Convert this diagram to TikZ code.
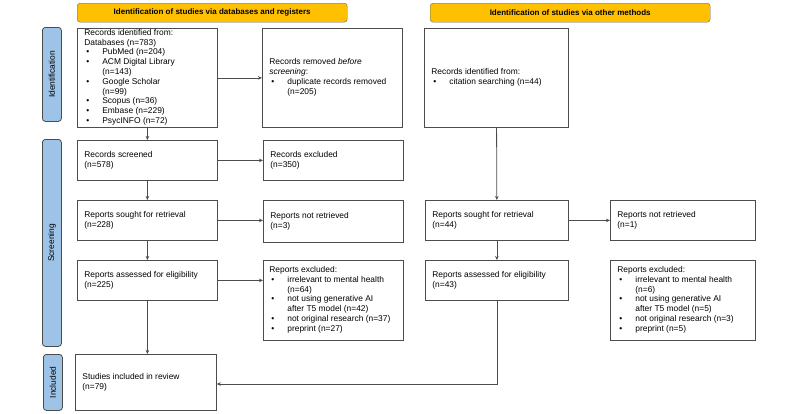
\documentclass[tikz,border=0pt]{standalone}
\usepackage{fontspec}
\setmainfont{Liberation Sans}
\usepackage{array}
\usetikzlibrary{arrows.meta, calc}
\definecolor{hdr}{HTML}{FFC000}
\definecolor{side}{HTML}{9DC3E6}
\tikzset{
    box/.style = {draw = black!70, line width = 0.8pt, inner sep = 0pt, minimum width = 140pt,
        font = \fontsize{8.4}{9.8}\selectfont, anchor = north west},
    head/.style = {draw = black!60, fill = hdr, rounded corners = 3pt, inner sep = 0pt,
        minimum height = 19pt, font = \fontsize{8}{9}\selectfont\bfseries, anchor = north west},
    phase/.style = {draw = black!70, fill = side, rounded corners = 3pt, line width = 0.8pt,
        inner sep = 0pt, minimum width = 19pt, anchor = north west},
    arr/.style = {-{Stealth[length = 4pt, width = 3.5pt]}, draw = black!70, line width = 0.8pt}
}
\newcommand{\txt}[2]{\parbox{#1}{\raggedright #2}}
\newcommand{\blist}[2]{\begin{tabular}{@{}>{\hspace{2pt}}p{18pt}@{}>{\raggedright\arraybackslash}p{#1}@{}}#2\end{tabular}}
\begin{document}
\begin{tikzpicture}[x = 1pt, y = -1pt]
    \useasboundingbox (0,0) rectangle (800,413);
    % headers
    \node [head, minimum width = 270pt] (hdb) at (77,3) {Identification of studies via databases and registers};
    \node [head, minimum width = 280pt] (hot) at (430,3) {Identification of studies via other methods};
    % phases
    \node [phase, minimum height = 94pt] (pid) at (42,27) {};
    \node [rotate = 90] at (pid.center) {\fontsize{8.4}{9}\selectfont Identification};
    \node [phase, minimum height = 207pt] (psc) at (42,139) {};
    \node [rotate = 90] at (psc.center) {\fontsize{8.4}{9}\selectfont Screening};
    \node [phase, minimum height = 56pt] (pin) at (43,354) {};
    \node [rotate = 90] at (pin.center) {\fontsize{8.4}{9}\selectfont Included};
    % left column
    \node [box, minimum height = 99pt] (ident) at (77,28) {\txt{126pt}{Records identified from:\\Databases (n=783)\\
        \blist{80pt}{\textbullet & PubMed (n=204)\\ \textbullet & ACM Digital Library (n=143)\\
        \textbullet & Google Scholar (n=99)\\ \textbullet & Scopus (n=36)\\
        \textbullet & Embase (n=229)\\ \textbullet & PsycINFO (n=72)}}};
    \node [box, minimum height = 99pt] (removed) at (262,28) {\txt{126pt}{Records removed \textit{before}\\\textit{screening}:\\
        \blist{102pt}{\textbullet & duplicate records removed (n=205)}}};
    \node [box, minimum height = 40pt] (screened) at (77,140) {\txt{126pt}{Records screened\\(n=578)}};
    \node [box, minimum height = 40pt] (excl) at (263,140) {\txt{126pt}{Records excluded\\(n=350)}};
    \node [box, minimum height = 40pt] (sought) at (77,200) {\txt{126pt}{Reports sought for retrieval\\(n=228)}};
    \node [box, minimum height = 42pt] (notret) at (263,200) {\txt{126pt}{Reports not retrieved\\(n=3)}};
    \node [box, minimum height = 40pt] (assess) at (77,260) {\txt{126pt}{Reports assessed for eligibility\\(n=225)}};
    \node [box, minimum height = 80pt] (rexcl) at (263,260) {\txt{128pt}{Reports excluded:\\
        \blist{104pt}{\textbullet & irrelevant to mental health (n=64)\\
        \textbullet & not using generative AI\newline after T5 model (n=42)\\
        \textbullet & not original research (n=37)\\ \textbullet & preprint (n=27)}}};
    \node [box, minimum width = 141pt, minimum height = 56pt] (incl) at (75,354) {\txt{127pt}{Studies included in review\\(n=79)}};
    % right column
    \node [box, minimum width = 144pt, minimum height = 99pt] (oident) at (424,28) {\txt{130pt}{Records identified from:\\
        \blist{108pt}{\textbullet & citation searching (n=44)}}};
    \node [box, minimum width = 143pt, minimum height = 40pt] (osought) at (425,200) {\txt{129pt}{Reports sought for retrieval\\(n=44)}};
    \node [box, minimum width = 145pt, minimum height = 40pt] (onotret) at (610,200) {\txt{131pt}{Reports not retrieved\\(n=1)}};
    \node [box, minimum width = 143pt, minimum height = 40pt] (oassess) at (425,260) {\txt{129pt}{Reports assessed for eligibility\\(n=43)}};
    \node [box, minimum width = 145pt, minimum height = 80pt] (orexcl) at (610,260) {\txt{131pt}{Reports excluded:\\
        \blist{104pt}{\textbullet & irrelevant to mental health (n=6)\\
        \textbullet & not using generative AI\newline after T5 model (n=5)\\
        \textbullet & not original research (n=3)\\ \textbullet & preprint (n=5)}}};
    % connectors
    \draw [arr] (ident) -- (removed);
    \draw [arr] (ident.south -| screened.north) -- (screened.north);
    \draw [arr] (screened) -- (excl.west |- screened);
    \draw [arr] (screened) -- (sought);
    \draw [arr] (sought) -- (notret.west |- sought);
    \draw [arr] (sought) -- (assess);
    \draw [arr] (assess) -- (rexcl.west |- assess);
    \draw [arr] (assess.south) -- (assess.south |- incl.north);
    \draw [arr] (oident) -- (osought);
    \draw [arr] (osought) -- (onotret);
    \draw [arr] (osought) -- (oassess);
    \draw [arr] (oassess.south) |- (incl.east |- 0,384);
\end{tikzpicture}
\end{document}
